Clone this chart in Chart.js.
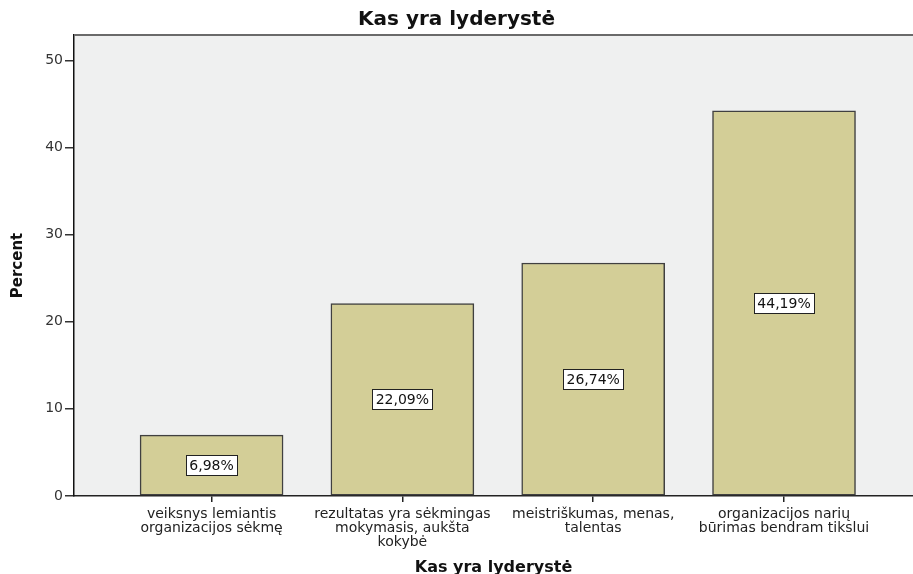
<!DOCTYPE html>
<html>
<head>
<meta charset="utf-8">
<script src="https://cdn.jsdelivr.net/npm/chart.js@4.4.1/dist/chart.umd.min.js"></script>
<style>
    html, body { margin: 0; padding: 0; background: #fff; }
    #wrap { width: 913px; height: 574px; }
</style>
</head>
<body>
<div id="wrap"><canvas id="chart" width="913" height="574"></canvas></div>
<script>
const chartTitle = "Kas yra lyderystė";
const categories = [
    ["veiksnys lemiantis", "organizacijos sėkmę"],
    ["rezultatas yra sėkmingas", "mokymasis, aukšta", "kokybė"],
    ["meistriškumas, menas,", "talentas"],
    ["organizacijos narių", "būrimas bendram tikslui"]
];
const percents = [6.98, 22.09, 26.74, 44.19];
const yTicks = [0, 10, 20, 30, 40, 50];

// plot background + top frame line
const plotFrame = {
    id: "plotFrame",
    beforeDraw(chart) {
        const { ctx, chartArea: a } = chart;
        ctx.save();
        ctx.fillStyle = "#eff0f0";
        ctx.fillRect(a.left, a.top, a.right - a.left, a.bottom - a.top);
        ctx.restore();
    },
    afterDraw(chart) {
        const { ctx, chartArea: a } = chart;
        ctx.save();
        ctx.strokeStyle = "#6a6a6a";
        ctx.lineWidth = 2;
        ctx.beginPath();
        ctx.moveTo(a.left, a.top);
        ctx.lineTo(a.right, a.top);
        ctx.stroke();
        ctx.restore();
    }
};

// boxed percent labels in the middle of each bar
const barLabels = {
    id: "barLabels",
    afterDatasetsDraw(chart) {
        const ctx = chart.ctx;
        const meta = chart.getDatasetMeta(0);
        ctx.save();
        ctx.font = '14px "DejaVu Sans"';
        ctx.textAlign = "center";
        ctx.textBaseline = "middle";
        meta.data.forEach((bar, i) => {
            const text = percents[i].toFixed(2).replace(".", ",") + "%";
            const cy = Math.round((bar.y + bar.base) / 2);
            const w = Math.round(ctx.measureText(text).width + 7);
            const h = 20;
            const x0 = Math.round(bar.x - w / 2) + 0.5;
            const y0 = Math.round(cy - h / 2) + 0.5;
            ctx.fillStyle = "#fff";
            ctx.fillRect(x0, y0, w, h);
            ctx.strokeStyle = "#222";
            ctx.lineWidth = 1;
            ctx.strokeRect(x0, y0, w, h);
            ctx.fillStyle = "#111";
            ctx.fillText(text, bar.x, cy + 1);
        });
        ctx.restore();
    }
};

new Chart(document.getElementById("chart"), {
    type: "bar",
    data: {
        datasets: [{
            data: percents.map((p, i) => ({ x: i + 1, y: p })),
            backgroundColor: "#d3ce97",
            borderColor: "#404040",
            borderWidth: 1.5,
            borderSkipped: false,
            barThickness: 143
        }]
    },
    options: {
        responsive: false,
        animation: false,
        devicePixelRatio: 1,
        layout: { padding: 0 },
        plugins: {
            legend: { display: false },
            tooltip: { enabled: false },
            title: {
                display: true,
                text: chartTitle,
                color: "#111",
                font: { family: "DejaVu Sans", weight: "bold", size: 20, lineHeight: 1.2 },
                padding: { top: 8, bottom: 3 }
            }
        },
        scales: {
            x: {
                type: "linear",
                offset: false,
                min: 0.279,
                max: 4.676,
                afterBuildTicks: s => { s.ticks = categories.map((c, i) => ({ value: i + 1 })); },
                afterFit: s => { s.height = 78; },
                ticks: {
                    callback: (v, i) => categories[i],
                    autoSkip: false,
                    maxRotation: 0,
                    color: "#222",
                    padding: 6,
                    font: { family: "DejaVu Sans", size: 14, lineHeight: 0.97 }
                },
                grid: { offset: false, drawOnChartArea: false, tickLength: 6, color: "#222", lineWidth: 1.5 },
                border: { display: true, color: "#222", width: 1.5 },
                title: {
                    display: true,
                    text: chartTitle,
                    color: "#111",
                    font: { family: "DejaVu Sans", weight: "bold", size: 16, lineHeight: 0.8 },
                    padding: { top: 0, bottom: 0 }
                }
            },
            y: {
                min: 0,
                max: 52.9,
                afterBuildTicks: s => { s.ticks = yTicks.map(v => ({ value: v })); },
                afterFit: s => { s.width = 74; },
                ticks: {
                    color: "#333",
                    padding: 2,
                    font: { family: "DejaVu Sans", size: 14 }
                },
                grid: { drawOnChartArea: false, tickLength: 9, color: "#333", lineWidth: 1.5 },
                border: { display: true, color: "#111", width: 1.5 },
                title: {
                    display: true,
                    text: "Percent",
                    color: "#111",
                    font: { family: "DejaVu Sans", weight: "bold", size: 15, lineHeight: 1.2 },
                    padding: { top: 9, bottom: 0 }
                }
            }
        }
    },
    plugins: [plotFrame, barLabels]
});
</script>
</body>
</html>
